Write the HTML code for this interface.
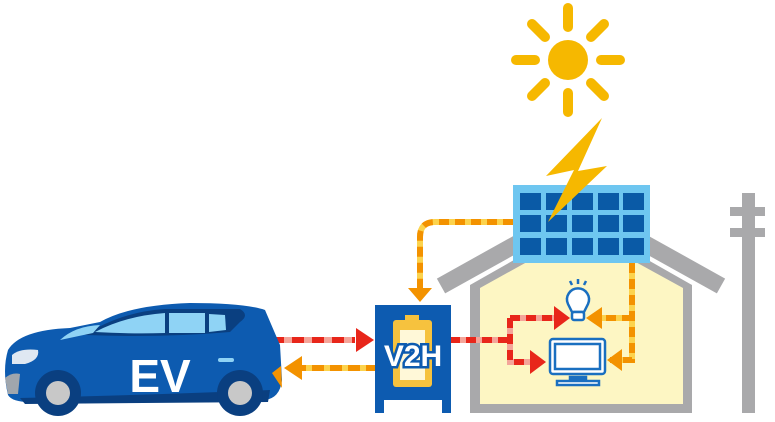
<!DOCTYPE html>
<html><head><style>html,body{margin:0;padding:0;background:#fff;}svg{display:block}</style></head>
<body>
<svg width="775" height="422" viewBox="0 0 775 422" xmlns="http://www.w3.org/2000/svg">
<!-- sun -->
<g fill="#f6b800">
<circle cx="568" cy="60" r="20"/>
<g stroke="#f6b800" stroke-width="10" stroke-linecap="round">
<line x1="568" y1="8" x2="568" y2="27"/><line x1="568" y1="93" x2="568" y2="112"/>
<line x1="516" y1="60" x2="535" y2="60"/><line x1="601" y1="60" x2="620" y2="60"/>
<line x1="532" y1="24" x2="545" y2="37"/><line x1="591" y1="83" x2="604" y2="96"/>
<line x1="604" y1="24" x2="591" y2="37"/><line x1="545" y1="83" x2="532" y2="96"/>
</g></g>
<!-- pole -->
<g fill="#a9a9ab"><rect x="742" y="193" width="13" height="220"/><rect x="730" y="207" width="35" height="9"/><rect x="730" y="228" width="35" height="9"/></g>
<!-- house -->
<polygon points="470,413 692,413 692,285 581,222 470,285" fill="#a9a9ab"/>
<polygon points="480,404 683,404 683,288 581,232 480,288" fill="#fdf6c3"/>
<polyline points="441,286 581,208 721,286" fill="none" stroke="#a9a9ab" stroke-width="17" stroke-linejoin="miter"/>
<!-- panel -->
<rect x="513" y="185" width="137" height="78" fill="#6ec6f0"/>
<g fill="#0a5aa6">
<rect x="520" y="193" width="21" height="17"/><rect x="546" y="193" width="21" height="17"/><rect x="572" y="193" width="21" height="17"/><rect x="598" y="193" width="21" height="17"/><rect x="623" y="193" width="21" height="17"/>
<rect x="520" y="215" width="21" height="17"/><rect x="546" y="215" width="21" height="17"/><rect x="572" y="215" width="21" height="17"/><rect x="598" y="215" width="21" height="17"/><rect x="623" y="215" width="21" height="17"/>
<rect x="520" y="238" width="21" height="17"/><rect x="546" y="238" width="21" height="17"/><rect x="572" y="238" width="21" height="17"/><rect x="598" y="238" width="21" height="17"/><rect x="623" y="238" width="21" height="17"/>
</g>
<!-- lightning -->
<polygon points="602,118 546,176 574,170 548,222 607,166 578,171" fill="#f6b800"/>
<!-- orange dashed lines -->
<g fill="none" stroke-width="6">
<path d="M513,222 H435 Q420,222 420,237 V290" stroke="#fcd34d"/>
<path d="M513,222 H435 Q420,222 420,237 V290" stroke="#f39200" stroke-dasharray="10,6"/>
<path d="M632,263 V360 H610 M632,318 H595" stroke="#fcd34d"/>
<path d="M632,263 V360 H610 M632,318 H595" stroke="#f39200" stroke-dasharray="10,6"/>
<path d="M450,368 H300" stroke="#fcd34d"/>
<path d="M450,368 H300" stroke="#f39200" stroke-dasharray="12,6"/>
<!-- red -->
<path d="M272,340 H355" stroke="#f4a59a"/>
<path d="M272,340 H355" stroke="#e8261a" stroke-dasharray="12,8"/>
<path d="M450,340 H510 M510,318 H555 M510,318 V362 H530" stroke="#f4a59a"/>
<path d="M450,340 H510 M510,318 H555 M510,318 V362 H530" stroke="#e8261a" stroke-dasharray="10,6"/>
</g>
<g fill="#f39200">
<polygon points="408,288 432,288 420,302"/>
<polygon points="586,318 602,307 602,329"/>
<polygon points="607,360 622,349 622,371"/>
<polygon points="284,368 302,356 302,380"/>
</g>
<g fill="#e8261a">
<polygon points="374,340 356,328 356,352"/>
<polygon points="570,318 554,306 554,330"/>
<polygon points="546,362 530,350 530,374"/>
</g>
<!-- bulb -->
<g stroke="#1a6fc0" stroke-width="2.5" fill="#fff">
<path d="M568,304 a11,11 0 1 1 20,0 L584,312 H572 Z"/>
<rect x="572" y="312" width="12" height="8" rx="2"/>
<line x1="570" y1="281" x2="572" y2="285"/><line x1="578" y1="279" x2="578" y2="284"/><line x1="586" y1="281" x2="584" y2="285"/>
</g>
<!-- TV -->
<g stroke="#1a6fc0" stroke-width="2.5" fill="#fff">
<rect x="550" y="339" width="55" height="35" rx="3"/>
<rect x="555" y="344" width="45" height="25"/>
<rect x="570" y="377" width="16" height="3" fill="#1a6fc0"/>
<rect x="557" y="381" width="42" height="4"/>
</g>
<!-- V2H box -->
<rect x="375" y="305" width="76" height="108" fill="#0d5bb0"/>
<rect x="384" y="400" width="58" height="13" fill="#fff"/>
<rect x="381" y="395" width="64" height="5" fill="#0d5bb0"/>
<rect x="405" y="315" width="14" height="6" fill="#f6c23e"/>
<rect x="393" y="320" width="39" height="67" rx="3" fill="#f6c23e"/>
<rect x="400" y="330" width="25" height="50" fill="#fff8d8"/>
<text x="413" y="366" text-anchor="middle" font-family="Liberation Sans, sans-serif" font-weight="bold" font-size="30" fill="#fff" stroke="#0d5bb0" stroke-width="5" paint-order="stroke">V2H</text>
<!-- car -->
<path d="M8,395 Q2,370 8,350 Q20,330 70,328 L100,322 Q130,305 190,303 Q245,303 265,310 L280,345 L282,380 Q280,398 265,400 L30,402 Q12,402 8,395 Z" fill="#0d5bb0"/>
<path d="M85,335 Q120,312 165,309 L240,309 Q250,315 240,322 L230,332 Q160,338 85,335 Z" fill="#0a3f80"/>
<path d="M95,332 Q125,316 165,313 L165,333 Q130,334 95,332 Z" fill="#8fd3f5"/>
<path d="M169,313 L205,313 L205,333 L169,333 Z" fill="#8fd3f5"/>
<path d="M209,314 L225,315 L226,330 L209,332 Z" fill="#8fd3f5"/>
<path d="M60,340 Q75,326 100,325 L93,333 Z" fill="#8fd3f5"/>
<path d="M12,355 Q20,348 38,350 Q40,360 25,364 L12,364 Z" fill="#dfe8f2"/>
<path d="M5,378 Q12,372 20,374 L18,394 L8,394 Z" fill="#a0a6ad"/>
<rect x="218" y="358" width="16" height="4" rx="2" fill="#8fd3f5"/>
<path d="M272,373 L281,366 L282,388 Z" fill="#f39200"/>
<path d="M20,398 Q150,395 270,390 L268,402 L25,404 Z" fill="#0a3f80"/>
<circle cx="58" cy="393" r="23" fill="#0a3f80"/><circle cx="58" cy="393" r="12" fill="#c8c8c8"/>
<circle cx="240" cy="393" r="23" fill="#0a3f80"/><circle cx="240" cy="393" r="12" fill="#c8c8c8"/>
<text x="160" y="392" text-anchor="middle" font-family="Liberation Sans, sans-serif" font-weight="bold" font-size="46" fill="#fff">EV</text>
</svg>
</body></html>
